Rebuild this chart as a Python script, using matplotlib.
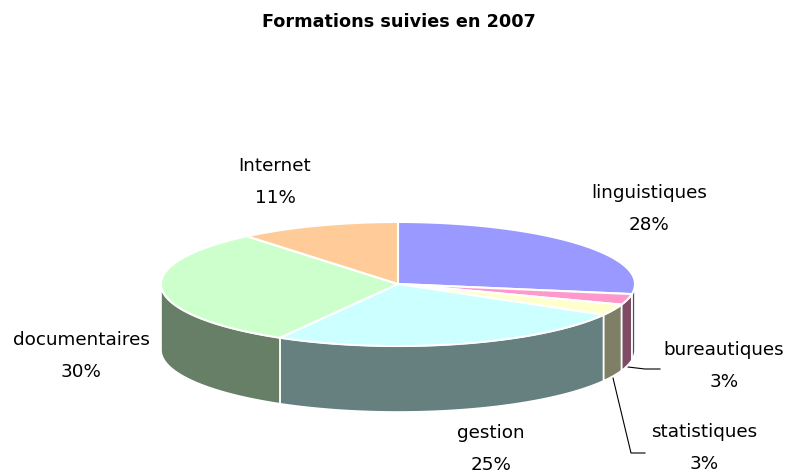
import numpy as np
import matplotlib
matplotlib.use("Agg")
import matplotlib.pyplot as plt
from matplotlib.patches import Polygon

categories = ["linguistiques", "bureautiques", "statistiques", "gestion", "documentaires", "Internet"]
shares = [27.6, 2.8, 2.9, 25.0, 30.7, 11.0]      # slice sizes as measured on the picture
printed_pct = [28, 3, 3, 25, 30, 11]             # percentages printed in the labels
title = "Formations suivies en 2007"

top_colors = ["#9999FF", "#FF99CC", "#FFFFCC", "#CCFFFF", "#CCFFCC", "#FFCC99"]
side_colors = ["#4C4C7F", "#7F4C66", "#7F7F66", "#667F7F", "#667F66", "#7F664C"]

CX, CY, RX, RY, DEPTH = 398, 284, 237, 62, 66
label_pos = {
    "linguistiques": (649, 193),
    "bureautiques": (724, 350),
    "statistiques": (704, 432),
    "gestion": (491, 433),
    "documentaires": (81, 340),
    "Internet": (275, 166),
}
LINE_GAP = 32
FONT = "DejaVu Sans"

fig = plt.figure(figsize=(7.87, 4.74), dpi=100)
ax = fig.add_axes([0, 0, 1, 1])
ax.set_xlim(0, 787)
ax.set_ylim(474, 0)
ax.axis("off")


def ell(t_deg, dy=0):
    t = np.radians(t_deg)
    return CX + RX * np.sin(t), CY - RY * np.cos(t) + dy


edges = np.concatenate([[0], np.cumsum(shares)]) * 360 / sum(shares)

# side walls (only the front half of the rim is visible)
for i in range(len(shares)):
    a, b = max(edges[i], 90), min(edges[i + 1], 270)
    if b <= a:
        continue
    ts = np.linspace(a, b, 120)
    xs, ys = ell(ts)
    xb, yb = ell(ts[::-1], DEPTH)
    pts = np.column_stack([np.r_[xs, xb], np.r_[ys, yb]])
    ax.add_patch(Polygon(pts, closed=True, facecolor=side_colors[i], edgecolor="white", linewidth=1.2, zorder=2))

# top surface
for i in range(len(shares)):
    ts = np.linspace(edges[i], edges[i + 1], 200)
    xs, ys = ell(ts)
    pts = np.column_stack([np.r_[CX, xs], np.r_[CY, ys]])
    ax.add_patch(Polygon(pts, closed=True, facecolor=top_colors[i], edgecolor="white", linewidth=1.5, zorder=3))

# leader lines
ax.plot([628, 645, 660], [367, 369, 369], color="black", lw=0.8, zorder=1)
ax.plot([613, 631, 645], [378, 453, 453], color="black", lw=0.8, zorder=1)

ax.text(399, 22, title, ha="center", va="center", fontsize=12.7, fontweight="bold", family=FONT, color="black")
for name, val in zip(categories, printed_pct):
    x, y = label_pos[name]
    ax.text(x, y, name, ha="center", va="center", fontsize=13.2, family=FONT, color="black")
    ax.text(x, y + LINE_GAP, f"{val}%", ha="center", va="center", fontsize=13.2, family=FONT, color="black")

fig.savefig("out.png", dpi=100, facecolor="white")
